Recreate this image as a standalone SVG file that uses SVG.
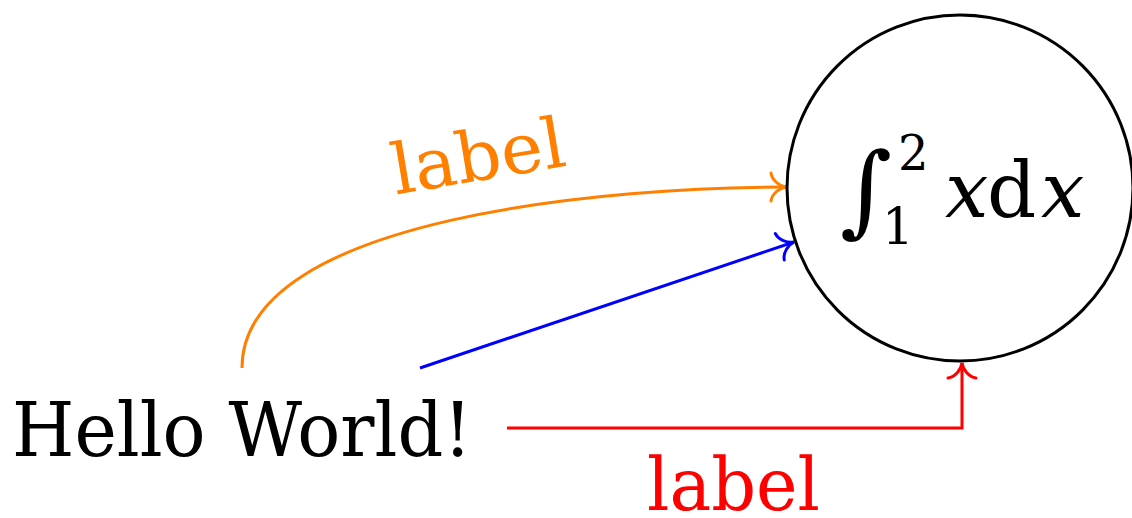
<svg xmlns="http://www.w3.org/2000/svg" width="1132" height="518" viewBox="0 0 1132 518">
<style>
.conn{fill:none;stroke-width:3;stroke-linecap:butt;stroke-linejoin:miter}
.tip{fill:none;stroke-width:3;stroke-linecap:round}
.rm{font-family:'DejaVu Serif',serif}
.it{font-family:'DejaVu Serif',serif;font-style:italic}
</style>
<defs>
<marker id="aO" markerUnits="userSpaceOnUse" viewBox="-18 -18 20 36" refX="0" refY="0" markerWidth="20" markerHeight="36" orient="auto" overflow="visible">
<path class="tip" stroke="#FF8000" d="M-15,-14 C-14,-7 -7,-1 0,0 C-7,1 -14,7 -15,14"/>
</marker>
<marker id="aB" markerUnits="userSpaceOnUse" viewBox="-18 -18 20 36" refX="0" refY="0" markerWidth="20" markerHeight="36" orient="auto" overflow="visible">
<path class="tip" stroke="#0000FF" d="M-15,-14 C-14,-7 -7,-1 0,0 C-7,1 -14,7 -15,14"/>
</marker>
<marker id="aR" markerUnits="userSpaceOnUse" viewBox="-18 -18 20 36" refX="0" refY="0" markerWidth="20" markerHeight="36" orient="auto" overflow="visible">
<path class="tip" stroke="#FF0000" d="M-15,-14 C-14,-7 -7,-1 0,0 C-7,1 -14,7 -15,14"/>
</marker>
</defs>
<rect width="1132" height="518" fill="#ffffff"/>
<g id="connectors">
<path class="conn" stroke="#FF8000" d="M242,368 C242,215 620,187 786,187" marker-end="url(#aO)"/>
<path class="conn" stroke="#0000FF" d="M420,368 L794,242" marker-end="url(#aB)"/>
<path class="conn" stroke="#FF0000" d="M507,428 L962,428 L962,363" marker-end="url(#aR)"/>
<text class="rm" fill="#FF8000" font-size="70" text-anchor="middle" textLength="175" lengthAdjust="spacingAndGlyphs" transform="translate(482,180) rotate(-9.5)">label</text>
<text class="rm" fill="#FF0000" font-size="72" x="647" y="510" textLength="173" lengthAdjust="spacingAndGlyphs">label</text>
</g>
<g id="node-hello">
<text class="rm" fill="#000" font-size="75" x="12" y="456" textLength="460" lengthAdjust="spacingAndGlyphs">Hello World!</text>
</g>
<g id="node-integral">
<circle cx="960" cy="188" r="173" fill="none" stroke="#000" stroke-width="3"/>
<text class="rm" font-size="100" x="840" y="224" fill="#000">∫</text>
<text class="rm" font-size="48" x="898" y="170" fill="#000">2</text>
<text class="rm" font-size="50" x="882" y="244" fill="#000">1</text>
<text class="it" font-size="77" x="945" y="217" fill="#000">x</text>
<text class="rm" font-size="77" x="987" y="217" fill="#000">d</text>
<text class="it" font-size="77" x="1041" y="217" fill="#000">x</text>
</g>
</svg>
